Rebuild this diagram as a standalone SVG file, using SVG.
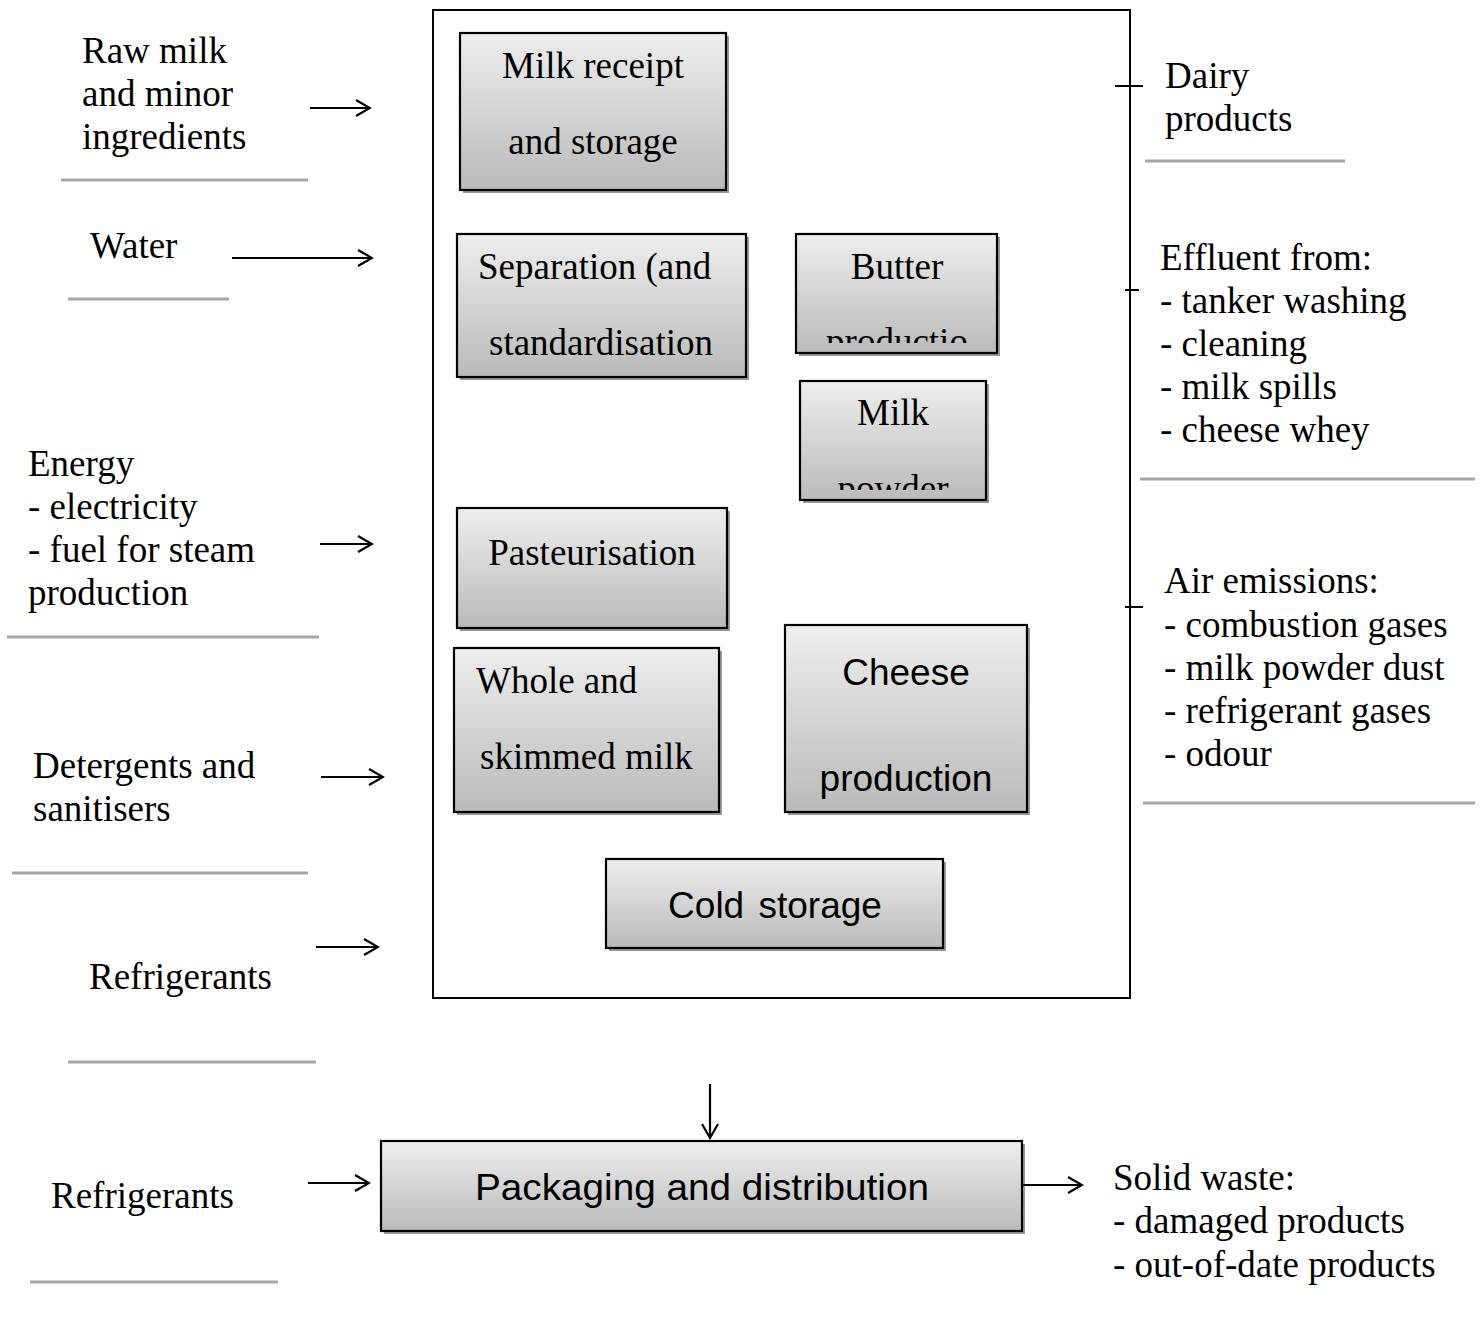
<svg xmlns="http://www.w3.org/2000/svg" width="1482" height="1329" viewBox="0 0 1482 1329">
<defs>
<linearGradient id="g" x1="0" y1="0" x2="0" y2="1">
<stop offset="0" stop-color="#eeeeee"/>
<stop offset="1" stop-color="#bababa"/>
</linearGradient>
<clipPath id="clipButter"><rect x="796" y="234" width="201" height="109"/></clipPath>
<clipPath id="clipPowder"><rect x="800" y="381" width="186" height="109"/></clipPath>
<marker id="ah" viewBox="0 0 20 20" refX="18" refY="10" markerWidth="20" markerHeight="20" markerUnits="userSpaceOnUse" orient="auto">
<path d="M4,2 L18,10 L4,18" fill="none" stroke="#000" stroke-width="2.2"/>
</marker>
</defs>
<style>
.t{font-family:"Liberation Serif","Times New Roman",serif;font-size:37px;fill:#000}
.a{font-family:"Liberation Sans",Arial,sans-serif;font-size:37px;fill:#000}
.box{fill:url(#g);stroke:#000;stroke-width:2.2}
.sh{fill:#999}
.gl{stroke:#a6a6a6;stroke-width:3;fill:none}
.ar{stroke:#000;stroke-width:2.2;fill:none;marker-end:url(#ah)}
.ln{stroke:#000;stroke-width:2;fill:none}
</style>
<rect width="1482" height="1329" fill="#fff"/>

<g id="plant">
<rect x="433" y="10" width="697" height="988" fill="none" stroke="#000" stroke-width="2"/>
</g>

<g id="milk-receipt">
<rect class="sh" x="463" y="36" width="266" height="157"/>
<rect class="box" x="460" y="33" width="266" height="157"/>
<text class="t" x="593" y="78" text-anchor="middle">Milk receipt</text>
<text class="t" x="593" y="154" text-anchor="middle">and storage</text>
</g>

<g id="separation">
<rect class="sh" x="460" y="237" width="289" height="143"/>
<rect class="box" x="457" y="234" width="289" height="143"/>
<text class="t" x="478" y="279">Separation (and</text>
<text class="t" x="489" y="355">standardisation</text>
</g>

<g id="butter">
<rect class="sh" x="799" y="237" width="201" height="119"/>
<rect class="box" x="796" y="234" width="201" height="119"/>
<text class="t" x="897" y="279" text-anchor="middle">Butter</text>
<text class="t" x="897" y="354" text-anchor="middle" clip-path="url(#clipButter)">productio</text>
</g>

<g id="milk-powder">
<rect class="sh" x="803" y="384" width="186" height="119"/>
<rect class="box" x="800" y="381" width="186" height="119"/>
<text class="t" x="893" y="425" text-anchor="middle">Milk</text>
<text class="t" x="893" y="501" text-anchor="middle" clip-path="url(#clipPowder)">powder</text>
</g>

<g id="pasteurisation">
<rect class="sh" x="460" y="511" width="270" height="120"/>
<rect class="box" x="457" y="508" width="270" height="120"/>
<text class="t" x="592" y="565" text-anchor="middle">Pasteurisation</text>
</g>

<g id="whole-skimmed">
<rect class="sh" x="457" y="651" width="265" height="164"/>
<rect class="box" x="454" y="648" width="265" height="164"/>
<text class="t" x="476" y="693">Whole and</text>
<text class="t" x="480" y="769">skimmed milk</text>
</g>

<g id="cheese">
<rect class="sh" x="788" y="628" width="242" height="187"/>
<rect class="box" x="785" y="625" width="242" height="187"/>
<text class="a" x="906" y="685" text-anchor="middle">Cheese</text>
<text class="a" x="906" y="791" text-anchor="middle">production</text>
</g>

<g id="cold-storage">
<rect class="sh" x="609" y="862" width="337" height="89"/>
<rect class="box" x="606" y="859" width="337" height="89"/>
<text class="a" x="775" y="918" text-anchor="middle" word-spacing="4">Cold storage</text>
</g>

<g id="packaging">
<rect class="sh" x="384" y="1144" width="641" height="90"/>
<rect class="box" x="381" y="1141" width="641" height="90"/>
<text class="a" x="702" y="1200" text-anchor="middle" textLength="454" lengthAdjust="spacingAndGlyphs">Packaging and distribution</text>
</g>

<g id="input-raw-milk">
<text class="t" x="82" y="63">Raw milk</text>
<text class="t" x="82" y="106">and minor</text>
<text class="t" x="82" y="149">ingredients</text>
<line class="gl" x1="61" y1="180" x2="308" y2="180"/>
</g>
<g id="input-water">
<text class="t" x="90" y="258">Water</text>
<line class="gl" x1="68" y1="299" x2="229" y2="299"/>
</g>
<g id="input-energy">
<text class="t" x="28" y="476">Energy</text>
<text class="t" x="28" y="519">- electricity</text>
<text class="t" x="28" y="562">- fuel for steam</text>
<text class="t" x="28" y="605">production</text>
<line class="gl" x1="7" y1="637" x2="319" y2="637"/>
</g>
<g id="input-detergents">
<text class="t" x="33" y="778">Detergents and</text>
<text class="t" x="33" y="821">sanitisers</text>
<line class="gl" x1="12" y1="873" x2="308" y2="873"/>
</g>
<g id="input-refrigerants-1">
<text class="t" x="89" y="989">Refrigerants</text>
<line class="gl" x1="68" y1="1062" x2="316" y2="1062"/>
</g>
<g id="input-refrigerants-2">
<text class="t" x="51" y="1208">Refrigerants</text>
<line class="gl" x1="30" y1="1282" x2="278" y2="1282"/>
</g>

<g id="output-dairy">
<text class="t" x="1165" y="88">Dairy</text>
<text class="t" x="1165" y="131">products</text>
<line class="gl" x1="1145" y1="161" x2="1345" y2="161"/>
</g>
<g id="output-effluent">
<text class="t" x="1160" y="270">Effluent from:</text>
<text class="t" x="1160" y="313">- tanker washing</text>
<text class="t" x="1160" y="356">- cleaning</text>
<text class="t" x="1160" y="399">- milk spills</text>
<text class="t" x="1160" y="442">- cheese whey</text>
<line class="gl" x1="1140" y1="479" x2="1475" y2="479"/>
</g>
<g id="output-air">
<text class="t" x="1164" y="593">Air emissions:</text>
<text class="t" x="1164" y="637">- combustion gases</text>
<text class="t" x="1164" y="680">- milk powder dust</text>
<text class="t" x="1164" y="723">- refrigerant gases</text>
<text class="t" x="1164" y="766">- odour</text>
<line class="gl" x1="1143" y1="803" x2="1475" y2="803"/>
</g>
<g id="output-solid">
<text class="t" x="1113" y="1190">Solid waste:</text>
<text class="t" x="1113" y="1233">- damaged products</text>
<text class="t" x="1113" y="1277">- out-of-date products</text>
</g>

<g id="connectors">
<line class="ar" x1="310" y1="108" x2="370" y2="108"/>
<line class="ar" x1="232" y1="258" x2="372" y2="258"/>
<line class="ar" x1="320" y1="544" x2="372" y2="544"/>
<line class="ar" x1="321" y1="777" x2="383" y2="777"/>
<line class="ar" x1="316" y1="947" x2="378" y2="947"/>
<line class="ar" x1="308" y1="1183" x2="369" y2="1183"/>
<line class="ar" x1="710" y1="1084" x2="710" y2="1138"/>
<line class="ar" x1="1022" y1="1185" x2="1082" y2="1185"/>
<line class="ln" x1="1115" y1="86" x2="1143" y2="86"/>
<line class="ln" x1="1125" y1="290" x2="1139" y2="290"/>
<line class="ln" x1="1125" y1="607" x2="1143" y2="607"/>
</g>
</svg>
